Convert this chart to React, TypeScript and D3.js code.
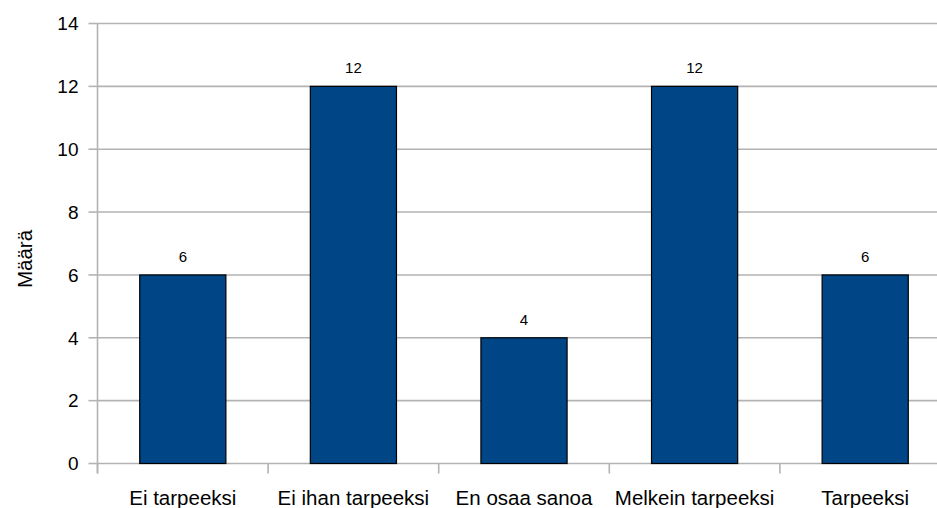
import React from "react";
import * as d3 from "d3";

const categories = ["Ei tarpeeksi", "Ei ihan tarpeeksi", "En osaa sanoa", "Melkein tarpeeksi", "Tarpeeksi"];
const counts = [6, 12, 4, 12, 6];
const yTicks = [0, 2, 4, 6, 8, 10, 12, 14];
const yTitle = "Määrä";

const W = 937;
const H = 508;
const FONT = "'Liberation Sans', Arial, sans-serif";

export default function App() {
  const x = d3.scaleBand<string>().domain(categories).range([97.5, 950.5]).padding(0);
  const y = d3.scaleLinear().domain([0, 14]).range([463.5, 23.5]);
  const step = x.step();
  const barW = step * 0.505;
  const grid = "#b3b3b3";
  const boundaries = d3.range(categories.length + 1).map((i) => 97.5 + i * step);

  return (
    <svg
      width={W}
      height={H}
      style={{ position: "absolute", left: 0, top: 0, background: "#fff" }}
      fontFamily={FONT}
    >
      {/* horizontal gridlines + y ticks */}
      {yTicks.map((t) => (
        <g key={t}>
          <line x1={97.5} x2={W} y1={y(t)} y2={y(t)} stroke={grid} strokeWidth={1.6} />
          <line x1={88.5} x2={97.5} y1={y(t)} y2={y(t)} stroke={grid} strokeWidth={1.6} />
          <text x={78.5} y={y(t)} dy="0.36em" textAnchor="end" fontSize={19} fill="#000">
            {t}
          </text>
        </g>
      ))}
      {/* y axis line */}
      <line x1={97.5} x2={97.5} y1={y(14)} y2={y(0) + 10} stroke={grid} strokeWidth={1.6} />
      {/* category boundary ticks */}
      {boundaries.map((b, i) => (
        <line key={i} x1={b} x2={b} y1={y(0)} y2={y(0) + 10} stroke={grid} strokeWidth={1.6} />
      ))}
      {/* bars */}
      {categories.map((c, i) => {
        const cx = (x(c) as number) + step / 2;
        return (
          <g key={c}>
            <rect
              x={cx - barW / 2}
              y={y(counts[i])}
              width={barW}
              height={y(0) - y(counts[i])}
              fill="#004586"
              stroke="#000"
              strokeWidth={1.2}
            />
            <text x={cx} y={y(counts[i]) - 13} textAnchor="middle" fontSize={15} fill="#000">
              {counts[i]}
            </text>
            <text x={cx} y={505} textAnchor="middle" fontSize={20.5} fill="#000">
              {c}
            </text>
          </g>
        );
      })}
      {/* y axis title */}
      <text
        transform={`translate(32, ${259}) rotate(-90)`}
        textAnchor="middle"
        fontSize={20.5}
        fill="#000"
      >
        {yTitle}
      </text>
    </svg>
  );
}
